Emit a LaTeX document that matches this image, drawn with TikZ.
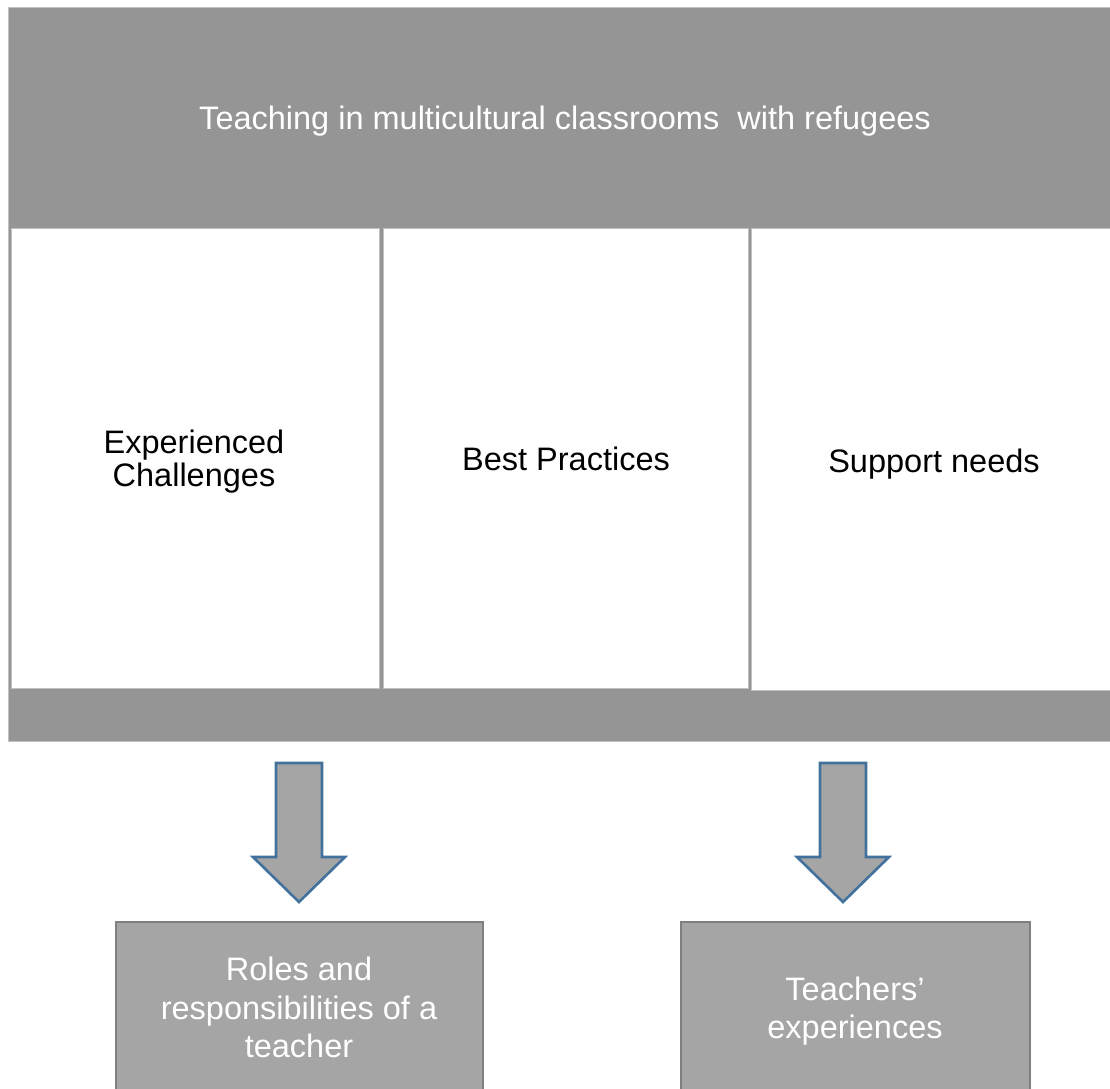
\documentclass[tikz,border=0pt]{standalone}
\usepackage{fontspec}
\setmainfont{Liberation Sans}
\definecolor{framegray}{HTML}{959595}
\definecolor{boxgray}{HTML}{A5A5A5}
\definecolor{boxedge}{HTML}{7F7F7F}
\definecolor{arrowblue}{HTML}{41719C}
\definecolor{edgelight}{HTML}{C0C0C0}
\tikzset{
  colbox/.style={fill=white, draw=edgelight, line width=0.8pt},
  coltext/.style={text=black, align=center, font=\fontsize{32.5}{33}\selectfont},
  whitetext/.style={text=white, align=center, font=\fontsize{32.5}{38.5}\selectfont},
  outbox/.style={fill=boxgray, draw=boxedge, line width=2pt},
  blockarrow/.style={fill=boxgray, draw=arrowblue, line width=2.6pt, line join=miter},
}
\begin{document}
\begin{tikzpicture}[x=1pt,y=-1pt]
\clip (0,0) rectangle (1110,1088);
\useasboundingbox (0,0) rectangle (1110,1088);
% frame
\fill[framegray] (8,7) rectangle (1120,741);
\draw[edgelight, line width=0.8pt] (1120,7) -- (8,7) -- (8,741) -- (1120,741);
% columns
\draw[colbox] (11,228) rectangle (379,688);
\draw[colbox] (383,228) rectangle (748,688);
\draw[colbox] (751,228) rectangle (1120,690);
% texts
\node[whitetext] (title) at (565,121) {Teaching in multicultural classrooms\ \ with refugees};
\node[coltext] (chal) at (194,462) {Experienced\\Challenges};
\node[coltext] (best) at (566,459) {Best Practices};
\node[coltext] (supp) at (934,464) {Support needs};
% arrows
\draw[blockarrow] (276,763) -- (322,763) -- (322,857) -- (345,857) -- (299,902) -- (253,857) -- (276,857) -- cycle;
\draw[blockarrow] (820,763) -- (866,763) -- (866,857) -- (889,857) -- (843,902) -- (797,857) -- (820,857) -- cycle;
% bottom boxes
\draw[outbox] (116,922) rectangle (483,1100);
\draw[outbox] (681,922) rectangle (1030,1100);
\node[whitetext] (roles) at (299,1007.5) {Roles and\\responsibilities of a\\teacher};
\node[whitetext] (exp) at (855,1011) {Teachers’\\experiences};
\end{tikzpicture}
\end{document}
